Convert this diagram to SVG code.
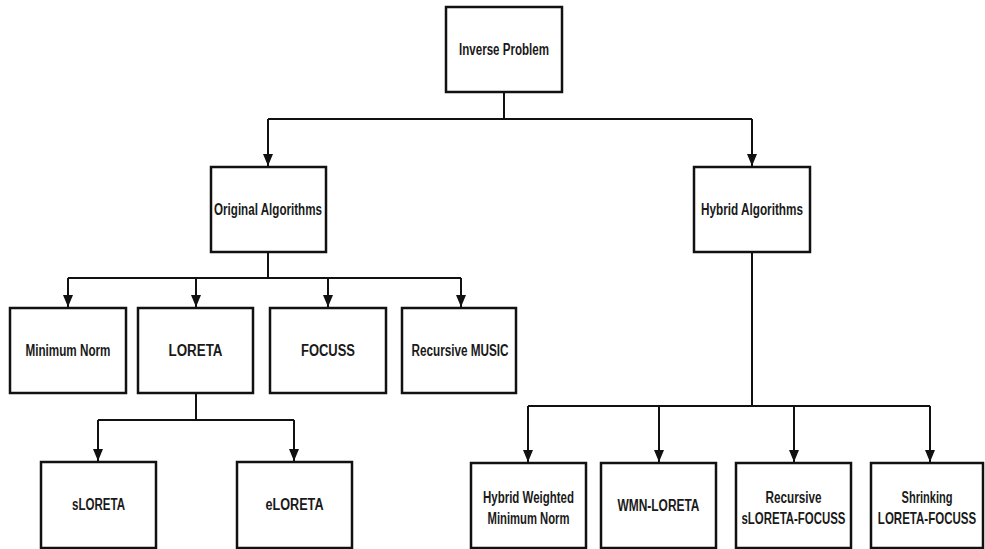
<svg xmlns="http://www.w3.org/2000/svg" width="985" height="549" viewBox="0 0 985 549">
<style>
.box{fill:#fff;stroke:#111;stroke-width:2.5}
.t{font-family:"Liberation Sans Narrow","Arial Narrow","Liberation Sans",Arial,sans-serif;font-weight:bold;font-size:16px;fill:#1a1a1a;text-anchor:middle}
.c{fill:none;stroke:#111;stroke-width:2}
</style>
<defs>
<marker id="ah" markerUnits="userSpaceOnUse" markerWidth="12" markerHeight="14" refX="12" refY="5" orient="auto" viewBox="0 0 12 10">
<path d="M0,0 L12,5 L0,10 Z" fill="#111"/>
</marker>
</defs>
<rect width="985" height="549" fill="#fff"/>
<g id="connectors">
<path class="c" d="M504,92 V119"/>
<path class="c" d="M268,119 H752"/>
<path class="c" d="M268,119 V166" marker-end="url(#ah)"/>
<path class="c" d="M752,119 V166" marker-end="url(#ah)"/>
<path class="c" d="M268,252 V278"/>
<path class="c" d="M68,278 H461"/>
<path class="c" d="M68,278 V307" marker-end="url(#ah)"/>
<path class="c" d="M196,278 V307" marker-end="url(#ah)"/>
<path class="c" d="M328,278 V307" marker-end="url(#ah)"/>
<path class="c" d="M461,278 V307" marker-end="url(#ah)"/>
<path class="c" d="M196,393 V420"/>
<path class="c" d="M98,420 H294"/>
<path class="c" d="M98,420 V461" marker-end="url(#ah)"/>
<path class="c" d="M294,420 V461" marker-end="url(#ah)"/>
<path class="c" d="M752,252 V406"/>
<path class="c" d="M528,406 H930"/>
<path class="c" d="M528,406 V462" marker-end="url(#ah)"/>
<path class="c" d="M659,406 V462" marker-end="url(#ah)"/>
<path class="c" d="M794,406 V462" marker-end="url(#ah)"/>
<path class="c" d="M930,406 V462" marker-end="url(#ah)"/>
</g>
<g id="inverse-problem"><rect class="box" x="446" y="7" width="116" height="85"/><text class="t" x="504" y="55" textLength="90" lengthAdjust="spacingAndGlyphs">Inverse Problem</text></g>
<g id="original-algorithms"><rect class="box" x="211" y="167" width="115" height="85"/><text class="t" x="268" y="215" textLength="108" lengthAdjust="spacingAndGlyphs">Original Algorithms</text></g>
<g id="hybrid-algorithms"><rect class="box" x="694" y="167" width="116" height="85"/><text class="t" x="752" y="215" textLength="102" lengthAdjust="spacingAndGlyphs">Hybrid Algorithms</text></g>
<g id="minimum-norm"><rect class="box" x="10" y="308" width="116" height="85"/><text class="t" x="68" y="356" textLength="85" lengthAdjust="spacingAndGlyphs">Minimum Norm</text></g>
<g id="loreta"><rect class="box" x="138" y="308" width="115" height="85"/><text class="t" x="195.5" y="356" textLength="54" lengthAdjust="spacingAndGlyphs">LORETA</text></g>
<g id="focuss"><rect class="box" x="270" y="308" width="116" height="85"/><text class="t" x="328" y="356" textLength="54" lengthAdjust="spacingAndGlyphs">FOCUSS</text></g>
<g id="recursive-music"><rect class="box" x="402" y="308" width="114" height="85"/><text class="t" x="460" y="356" textLength="97" lengthAdjust="spacingAndGlyphs">Recursive MUSIC</text></g>
<g id="sloreta"><rect class="box" x="41" y="462" width="115" height="86"/><text class="t" x="98.5" y="510" textLength="53" lengthAdjust="spacingAndGlyphs">sLORETA</text></g>
<g id="eloreta"><rect class="box" x="237" y="462" width="115" height="86"/><text class="t" x="294.5" y="510" textLength="58" lengthAdjust="spacingAndGlyphs">eLORETA</text></g>
<g id="hybrid-weighted-minimum-norm"><rect class="box" x="471" y="463" width="115" height="85"/><text class="t" x="528.5" y="503" textLength="91" lengthAdjust="spacingAndGlyphs">Hybrid Weighted</text><text class="t" x="528.5" y="524" textLength="82" lengthAdjust="spacingAndGlyphs">Minimum Norm</text></g>
<g id="wmn-loreta"><rect class="box" x="601" y="463" width="115" height="85"/><text class="t" x="658.5" y="511" textLength="82" lengthAdjust="spacingAndGlyphs">WMN-LORETA</text></g>
<g id="recursive-sloreta-focuss"><rect class="box" x="736" y="463" width="115" height="85"/><text class="t" x="793.5" y="503" textLength="56" lengthAdjust="spacingAndGlyphs">Recursive</text><text class="t" x="793.5" y="524" textLength="104" lengthAdjust="spacingAndGlyphs">sLORETA-FOCUSS</text></g>
<g id="shrinking-loreta-focuss"><rect class="box" x="871" y="463" width="112" height="85"/><text class="t" x="927" y="503" textLength="51" lengthAdjust="spacingAndGlyphs">Shrinking</text><text class="t" transform="translate(927,524) scale(0.72,1)" x="0" y="0">LORETA-FOCUSS</text></g>
</svg>
